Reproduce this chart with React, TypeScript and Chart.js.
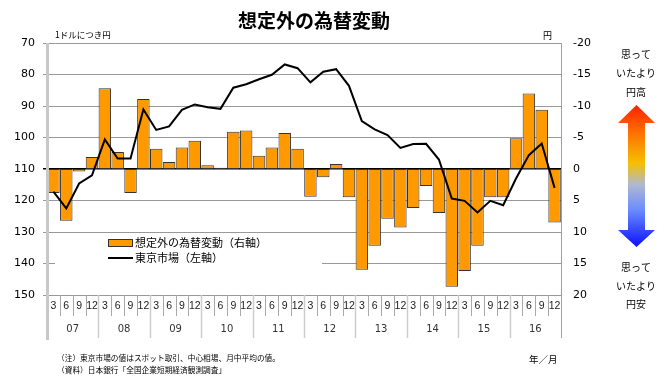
import React, { useEffect, useRef } from "react";
import { Chart, registerables } from "chart.js";

Chart.register(...registerables);

const years = ["07", "08", "09", "10", "11", "12", "13", "14", "15", "16"];
const quarterTicks = ["3", "6", "9", "12"];
const categories = years.flatMap((y) => quarterTicks.map((q) => `${y}/${q}`));

// 想定外の為替変動（右軸, 円）
const surpriseValues = [
  3.8, 8.2, 0.4, -1.9,
  -12.8, -2.7, 3.8, -11.1,
  -3.2, -1.1, -3.4, -4.5,
  -0.6, -0.2, -5.9, -6.1,
  -2.1, -3.4, -5.7, -3.2,
  4.4, 1.3, -0.8, 4.5,
  16.0, 12.2, 7.9, 9.3,
  6.2, 2.7, 7.0, 18.7,
  16.2, 12.2, 4.5, 4.5,
  -4.9, -12.0, -9.4, 8.5,
];

// 東京市場（左軸, 1ドルにつき円）
const tokyoRate = [
  117.2, 122.5, 114.6, 112.0,
  100.6, 106.7, 106.7, 91.1,
  97.6, 96.5, 91.2, 89.5,
  90.4, 90.9, 84.2, 83.1,
  81.5, 80.1, 76.8, 78.0,
  82.5, 79.1, 78.3, 83.6,
  94.8, 97.4, 99.2, 103.3,
  102.1, 102.0, 107.0, 119.4,
  120.1, 123.8, 120.1, 121.5,
  113.0, 105.6, 101.9, 116.0,
];

const leftAxis = { min: 70, max: 150, step: 10 };
const rightAxis = { min: -20, max: 20, step: 5 };

const CJK = "'Noto Sans CJK JP', sans-serif";
const NUM = "'DejaVu Sans', sans-serif";

const decorPlugin = {
  id: "decor",
  beforeDatasetsDraw(chart: any) {
    const ctx = chart.ctx;
    ctx.save();
    ctx.fillStyle = "#ffffff";
    ctx.fillRect(55, 234, 267, 51);
    ctx.restore();
  },
  afterDraw(chart: any) {
    const ctx: CanvasRenderingContext2D = chart.ctx;
    const area = chart.chartArea;
    const xs = chart.scales.x;
    ctx.save();

    // title
    ctx.fillStyle = "#000";
    ctx.textAlign = "center";
    ctx.textBaseline = "middle";
    ctx.font = `bold 19px ${CJK}`;
    ctx.fillText("想定外の為替変動", 314, 21);

    // unit labels
    ctx.font = `8.5px ${CJK}`;
    ctx.textAlign = "left";
    ctx.fillText("1ドルにつき円", 55, 35);
    ctx.font = `9px ${CJK}`;
    ctx.fillText("円", 543, 36);

    // x-axis two-level labels
    const half = (xs.getPixelForValue(1) - xs.getPixelForValue(0)) / 2;
    for (let i = 0; i < categories.length; i++) {
      const cx = xs.getPixelForValue(i);
      const q = quarterTicks[i % 4];
      ctx.fillStyle = "#222";
      ctx.font = `10.5px 'Liberation Sans', sans-serif`;
      ctx.textAlign = "center";
      ctx.fillText(q, cx, 306);
      const bx = cx + half;
      if (i % 4 !== 3) {
        ctx.strokeStyle = "#a8a8a8";
        ctx.lineWidth = 1;
        ctx.beginPath();
        ctx.moveTo(Math.round(bx) + 0.5, area.bottom);
        ctx.lineTo(Math.round(bx) + 0.5, 316);
        ctx.stroke();
      }
    }
    for (let y = 0; y < years.length; y++) {
      const c0 = xs.getPixelForValue(y * 4) - half;
      const c1 = xs.getPixelForValue(y * 4 + 3) + half;
      ctx.fillStyle = "#333";
      ctx.font = `10px ${NUM}`;
      ctx.textAlign = "center";
      ctx.fillText(years[y], (c0 + c1) / 2, 329);
      ctx.strokeStyle = y === years.length - 1 ? "#a0a0a0" : "#cccccc";
      ctx.lineWidth = y === years.length - 1 ? 1 : 1.5;
      ctx.beginPath();
      ctx.moveTo(Math.round(c1) + 0.5, area.bottom);
      ctx.lineTo(Math.round(c1) + 0.5, 338);
      ctx.stroke();
    }

    // left thick axis line
    ctx.strokeStyle = "#c8c8c8";
    ctx.lineWidth = 3;
    ctx.beginPath();
    ctx.moveTo(area.left + 0.5, area.top);
    ctx.lineTo(area.left + 0.5, 340);
    ctx.stroke();

    // legend
    ctx.fillStyle = "#ff9900";
    ctx.fillRect(108, 239, 25, 7);
    ctx.strokeStyle = "#333";
    ctx.lineWidth = 1;
    ctx.strokeRect(108.5, 239.5, 24, 7);
    ctx.strokeStyle = "#000";
    ctx.lineWidth = 2;
    ctx.beginPath();
    ctx.moveTo(108, 258);
    ctx.lineTo(133, 258);
    ctx.stroke();
    ctx.fillStyle = "#000";
    ctx.font = `11px ${CJK}`;
    ctx.textAlign = "left";
    ctx.fillText("想定外の為替変動（右軸）", 135, 243);
    ctx.fillText("東京市場（左軸）", 135, 258);

    // right annotation
    ctx.font = `10px ${CJK}`;
    ctx.textAlign = "center";
    ctx.fillText("思って", 636, 54);
    ctx.fillText("いたより", 636, 73);
    ctx.fillText("円高", 636, 92);
    ctx.fillText("思って", 636, 267);
    ctx.fillText("いたより", 636, 286);
    ctx.fillText("円安", 636, 304);

    const g = ctx.createLinearGradient(0, 105, 0, 247);
    g.addColorStop(0, "#ff2000");
    g.addColorStop(0.18, "#ff6a00");
    g.addColorStop(0.41, "#f5c000");
    g.addColorStop(0.56, "#b0b8d0");
    g.addColorStop(0.74, "#6a8cff");
    g.addColorStop(1, "#0a10ff");
    ctx.fillStyle = g;
    ctx.beginPath();
    ctx.moveTo(636.5, 105);
    ctx.lineTo(655, 123);
    ctx.lineTo(645, 123);
    ctx.lineTo(645, 230);
    ctx.lineTo(655, 230);
    ctx.lineTo(636.5, 247);
    ctx.lineTo(618, 230);
    ctx.lineTo(628, 230);
    ctx.lineTo(628, 123);
    ctx.lineTo(618, 123);
    ctx.closePath();
    ctx.fill();

    // notes
    ctx.fillStyle = "#000";
    ctx.textAlign = "left";
    ctx.font = `7.7px ${CJK}`;
    ctx.fillText("（注）東京市場の値はスポット取引、中心相場、月中平均の値。", 57, 358);
    ctx.fillText("（資料）日本銀行「全国企業短期経済観測調査」", 57, 370);
    ctx.font = `9.5px ${CJK}`;
    ctx.fillText("年／月", 529, 359);

    ctx.restore();
  },
};

export default function App() {
  const ref = useRef<HTMLCanvasElement | null>(null);

  useEffect(() => {
    if (!ref.current) return;
    const chart = new Chart(ref.current, {
      type: "bar",
      data: {
        labels: categories,
        datasets: [
          {
            type: "line",
            label: "東京市場（左軸）",
            data: tokyoRate,
            yAxisID: "yL",
            borderColor: "#000",
            borderWidth: 2,
            pointRadius: 0,
            tension: 0,
            order: 0,
          } as any,
          {
            type: "bar",
            label: "想定外の為替変動（右軸）",
            data: surpriseValues,
            yAxisID: "yR",
            backgroundColor: "#ff9900",
            borderColor: "#333333",
            borderWidth: 1,
            borderSkipped: false,
            barPercentage: 0.97,
            categoryPercentage: 1,
            order: 1,
          } as any,
        ],
      },
      options: {
        responsive: false,
        animation: false,
        devicePixelRatio: 1,
        layout: { padding: { top: 43, bottom: 96, left: 0, right: 0 } },
        plugins: {
          legend: { display: false },
          title: { display: false },
          tooltip: { enabled: false },
        },
        scales: {
          x: { display: false, offset: true },
          yL: {
            position: "left",
            reverse: true,
            min: leftAxis.min,
            max: leftAxis.max,
            afterFit: (s: any) => {
              s.width = 47;
            },
            ticks: {
              stepSize: leftAxis.step,
              padding: 8,
              color: "#000",
              font: { family: NUM, size: 11 },
            },
            grid: {
              color: (c: any) => (c.tick && c.tick.value === 110 ? "#000" : "#999999"),
              lineWidth: (c: any) => (c.tick && c.tick.value === 110 ? 1.5 : 1),
              tickLength: 4,
              drawTicks: true,
            },
            border: { display: false },
          },
          yR: {
            position: "right",
            reverse: true,
            min: rightAxis.min,
            max: rightAxis.max,
            afterFit: (s: any) => {
              s.width = 109;
            },
            ticks: {
              stepSize: rightAxis.step,
              padding: 12,
              color: "#000",
              font: { family: NUM, size: 11 },
            },
            grid: { display: false, drawTicks: false },
            border: { display: true, color: "#a0a0a0", width: 1 },
          },
        },
      },
      plugins: [decorPlugin],
    });
    return () => chart.destroy();
  }, []);

  return (
    <div style={{ position: "absolute", left: 0, top: 0, width: 670, height: 391, background: "#fff" }}>
      <canvas ref={ref} width={670} height={391} style={{ width: 670, height: 391, display: "block" }} />
    </div>
  );
}
